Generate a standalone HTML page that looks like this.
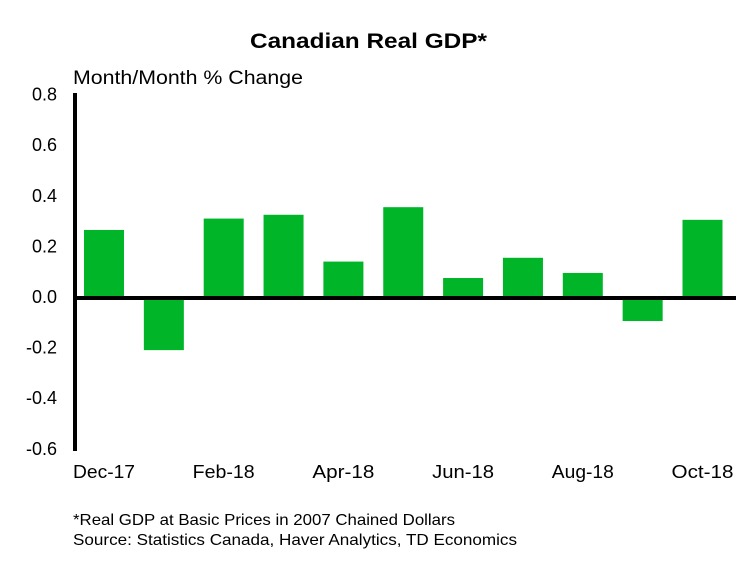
<!DOCTYPE html>
<html><head><meta charset="utf-8"><style>
body{margin:0;background:#fff;width:753px;height:562px;overflow:hidden;font-family:"Liberation Sans",Arial,sans-serif}
</style></head><body>
<svg id="chart" width="753" height="562" xmlns="http://www.w3.org/2000/svg" font-family="Liberation Sans, Arial, sans-serif">
<text x="250" y="48" font-size="21" font-weight="bold" textLength="237" lengthAdjust="spacingAndGlyphs">Canadian Real GDP*</text>
<text x="73" y="84" font-size="19" textLength="230" lengthAdjust="spacingAndGlyphs">Month/Month % Change</text>
<g id="bars"></g>
<g id="yticks"></g>
<g id="xticks"></g>
<line x1="75" y1="93" x2="75" y2="451" stroke="#000" stroke-width="4"/>
<line id="zero" x1="73" x2="736" stroke="#000" stroke-width="4"/>
<text x="73" y="525" font-size="16" textLength="382" lengthAdjust="spacingAndGlyphs">*Real GDP at Basic Prices in 2007 Chained Dollars</text>
<text x="73" y="545" font-size="16" textLength="444" lengthAdjust="spacingAndGlyphs">Source: Statistics Canada, Haver Analytics, TD  Economics</text>
</svg>
<script>
const categories=["Dec-17","Jan-18","Feb-18","Mar-18","Apr-18","May-18","Jun-18","Jul-18","Aug-18","Sep-18","Oct-18"];
const values=[0.265,-0.21,0.31,0.325,0.14,0.355,0.075,0.155,0.095,-0.095,0.305];
const yTicks=[0.8,0.6,0.4,0.2,0.0,-0.2,-0.4,-0.6];
const xLabels=["Dec-17","","Feb-18","","Apr-18","","Jun-18","","Aug-18","","Oct-18"];
const NS="http://www.w3.org/2000/svg";
function y(v){return 297-(v*253);}
function x(i){return 74+i*59.85;}
const bars=document.getElementById('bars');
values.forEach((v,i)=>{
 const r=document.createElementNS(NS,'rect');
 
 
 r.setAttribute('x',x(i)+10);r.setAttribute('width',40);
 r.setAttribute('y',Math.min(y(v),y(0)));r.setAttribute('height',Math.abs(y(v)-y(0)));
 r.setAttribute('fill','#00b527');
 bars.appendChild(r);
});
const z=document.getElementById('zero');z.setAttribute('y1',y(0)+1);z.setAttribute('y2',y(0)+1);
const yt=document.getElementById('yticks');
yTicks.forEach(t=>{
 const e=document.createElementNS(NS,'text');
 
 
 e.setAttribute('x',57);e.setAttribute('y',y(t)+6);e.setAttribute('text-anchor','end');e.setAttribute('font-size','18');
 e.textContent=t.toFixed(1);yt.appendChild(e);
});
const xt=document.getElementById('xticks');
xLabels.forEach((l,i)=>{
 if(!l)return;
 const e=document.createElementNS(NS,'text');
 
 
 e.setAttribute('x',x(i)+30);e.setAttribute('y',478);e.setAttribute('text-anchor','middle');e.setAttribute('font-size','18');
 e.setAttribute('textLength','62');e.setAttribute('lengthAdjust','spacingAndGlyphs');
 e.textContent=l;xt.appendChild(e);
});
</script>
</body></html>
